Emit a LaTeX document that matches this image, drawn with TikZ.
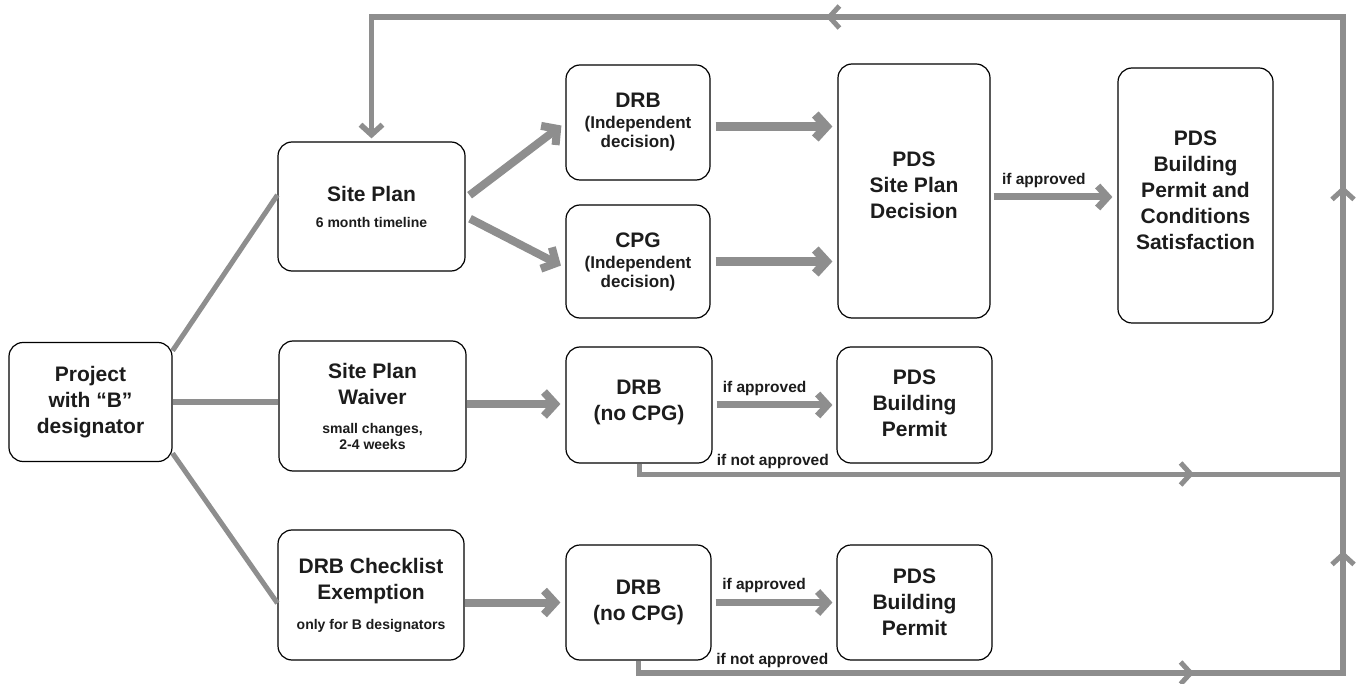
\documentclass[tikz,border=0pt]{standalone}
\usepackage{fontspec}
\setmainfont{Liberation Sans}
\usetikzlibrary{arrows.meta,decorations.markings}
\definecolor{lg}{RGB}{142,142,142}
\definecolor{tx}{RGB}{28,28,28}
\newcommand{\smallfs}{\fontsize{14}{16}\selectfont}
\newcommand{\midfs}{\fontsize{17}{20}\selectfont}
\tikzset{
  box/.style={draw=black, line width=1.2pt, rounded corners=14pt, fill=white,
    align=center, text=tx, font=\bfseries\fontsize{21}{26}\selectfont, inner sep=0pt},
  conn/.style={draw=lg, line width=5pt},
  medconn/.style={draw=lg, line width=7pt},
  thickconn/.style={draw=lg, line width=9pt},
  tipS/.style={-{Straight Barb[length=10pt,width=22pt]}},
  tipL/.style={-{Straight Barb[length=11pt,width=24pt]}},
  lbl/.style={text=tx, font=\bfseries\fontsize{15.5}{18}\selectfont, inner sep=1pt},
  midtip/.style={postaction={decorate, decoration={markings,
    mark=at position #1 with {\draw[draw=lg, line width=5pt, line cap=butt, line join=miter]
      (-10pt,11pt) -- (0pt,0pt) -- (-10pt,-11pt);}}}}
}
\begin{document}
\begin{tikzpicture}[x=1pt,y=-1pt]
\useasboundingbox[fill=white] (0,0) rectangle (1360,684);

% boxes
\node[box, minimum width=163pt, minimum height=119pt] (proj) at (90.5,402) {Project\\with “B”\\designator};
\node[box, minimum width=187pt, minimum height=129pt] (sp) at (371.5,206.5) {Site Plan\\{\smallfs 6 month timeline}};
\node[box, minimum width=187pt, minimum height=130pt] (spw) at (372.5,406) {Site Plan\\Waiver\\[3pt]{\smallfs small changes,}\\[-10pt]{\smallfs 2-4 weeks}};
\node[box, minimum width=186pt, minimum height=130pt] (chk) at (371,595) {DRB Checklist\\Exemption\\[4pt]{\smallfs only for B designators}};
\node[box, minimum width=144pt, minimum height=115pt] (drb1) at (638,122.5) {DRB\\[-5pt]{\midfs (Independent}\\[-7pt]{\midfs decision)}};
\node[box, minimum width=144pt, minimum height=113pt] (cpg) at (638,261.5) {CPG\\[-5pt]{\midfs (Independent}\\[-7pt]{\midfs decision)}};
\node[box, minimum width=152pt, minimum height=254pt] (pdsd) at (914,191) {PDS\\Site Plan\\Decision\\[-14pt]};
\node[box, minimum width=155pt, minimum height=255pt] (pdsbc) at (1195.5,195.5) {PDS\\Building\\Permit and\\Conditions\\Satisfaction\\[-15pt]};
\node[box, minimum width=146pt, minimum height=116pt] (drb2) at (639,405) {DRB\\(no CPG)\\[-16pt]};
\node[box, minimum width=155pt, minimum height=116pt] (bp1) at (914.5,405) {PDS\\Building\\Permit\\[-22pt]};
\node[box, minimum width=145pt, minimum height=115pt] (drb3) at (638.5,602.5) {DRB\\(no CPG)\\[-21pt]};
\node[box, minimum width=155pt, minimum height=115pt] (bp2) at (914.5,602.5) {PDS\\Building\\Permit};

% free corner points of the loop
\coordinate (r1) at (1343,474);
\coordinate (r2) at (1343,673);
\coordinate (rt) at (1343,17);
\coordinate (lt) at (sp.north |- rt);

% project branches
\draw[conn] (proj.32) -- (sp.173);
\draw[conn, line width=6pt] (proj.east) -- (proj.east -| spw.west);
\draw[conn] (proj.-32) -- (chk.185);

% site plan to reviews
\draw[medconn, line width=8pt, tipL, shorten <=5pt, shorten >=5pt] (sp.5.8) -- (drb1.west);
\draw[medconn, line width=8pt, tipL, shorten <=5pt, shorten >=5pt] (sp.-6) -- (cpg.185);
\draw[thickconn, tipL, shorten <=5pt, shorten >=5pt] ([yshift=-4pt]drb1.east) -- ([yshift=-4pt]drb1.east -| pdsd.west);
\draw[thickconn, tipL, shorten <=5pt, shorten >=5pt] (cpg.east) -- (cpg.east -| pdsd.west);
\draw[medconn, tipS, shorten <=3pt, shorten >=5pt] ([yshift=-6pt]pdsd.east) -- node[lbl, above=5pt, pos=0.42] {if approved} ([yshift=-6pt]pdsd.east -| pdsbc.west);

% waiver row
\draw[medconn, line width=8pt, tipL, shorten >=5pt] ([yshift=2pt]spw.east) -- ([yshift=2pt]spw.east -| drb2.west);
\draw[medconn, tipS, shorten <=4pt, shorten >=4pt] (drb2.east) -- node[lbl, above=5pt, pos=0.42] {if approved} (bp1.west);
\draw[conn, midtip=562pt] (drb2.south) -- (drb2.south |- r1) -- node[lbl, above=2pt, pos=0.19] {if not approved} (r1);

% checklist row
\draw[medconn, line width=8pt, tipL, shorten >=5pt] (chk.east |- drb3.west) -- (drb3.west);
\draw[medconn, tipS, shorten <=4pt, shorten >=4pt] (drb3.east) -- node[lbl, above=5pt, pos=0.42] {if approved} (bp2.west);

% loop back to site plan
\draw[conn, line width=5.5pt, tipS, shorten >=3pt]
  (drb3.south) -- (drb3.south |- r2) -- node[lbl, above=2pt, pos=0.19] {if not approved} (r2) -- (rt) -- (lt) -- (sp.north);
\path[midtip=564.5pt, midtip=835.5pt, midtip=1200.5pt, midtip=1886.5pt]
  (drb3.south) -- (drb3.south |- r2) -- (r2) -- (rt) -- (lt) -- (sp.north);
\end{tikzpicture}
\end{document}
